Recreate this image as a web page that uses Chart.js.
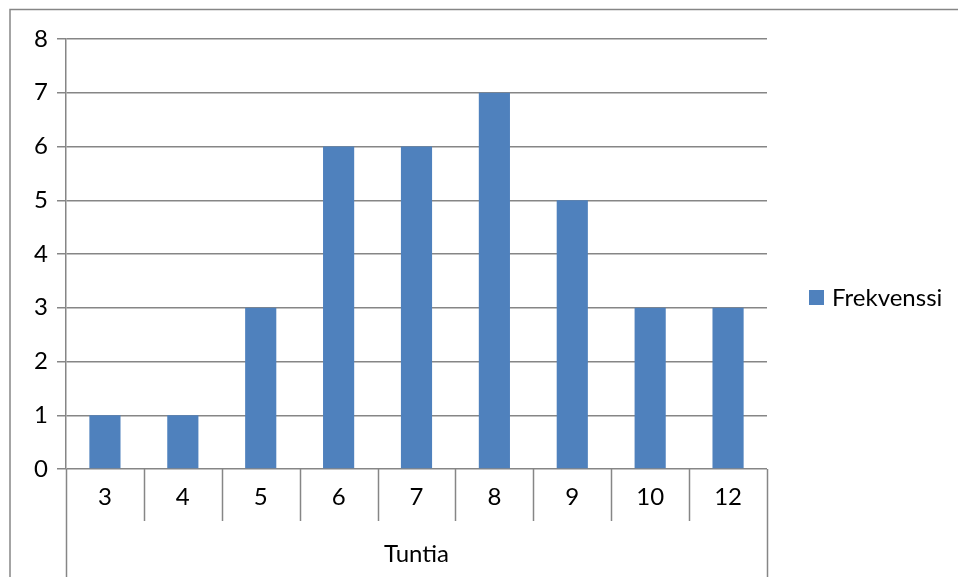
<!DOCTYPE html>
<html>
<head>
<meta charset="utf-8">
<script src="https://cdn.jsdelivr.net/npm/chart.js@4/dist/chart.umd.min.js"></script>
<style>
  html, body { margin: 0; padding: 0; background: #fff; }
  #wrap { width: 958px; height: 577px; position: relative; }
</style>
</head>
<body>
<div id="wrap"><canvas id="c" width="958" height="577"></canvas></div>
<script>
// Hours (Tuntia) and how many answers fell on each
const categories = ['3', '4', '5', '6', '7', '8', '9', '10', '12'];
const frekvenssi = [1, 1, 3, 6, 6, 7, 5, 3, 3];
const yTicks = [0, 1, 2, 3, 4, 5, 6, 7, 8];
const seriesName = 'Frekvenssi';
const axisTitle = 'Tuntia';

const FONT = 'Lato, "Open Sans", sans-serif';
const FONT_SIZE = 24;
const LINE = '#868686';
const BAR = '#4F81BD';

// Outer frame, category table lines and the legend on the right
const excelLook = {
  id: 'excelLook',
  beforeDraw(chart) {
    const ctx = chart.ctx;
    ctx.save();
    ctx.strokeStyle = LINE;
    ctx.lineWidth = 1.5;
    ctx.beginPath();
    ctx.moveTo(10, chart.height + 5);
    ctx.lineTo(10, 9.5);
    ctx.lineTo(chart.width + 5, 9.5);
    ctx.stroke();
    ctx.restore();
  },
  afterDraw(chart) {
    const ctx = chart.ctx;
    const x = chart.scales.x;
    const area = chart.chartArea;
    const n = categories.length;
    const step = (x.right - x.left) / n;
    ctx.save();
    ctx.strokeStyle = LINE;
    ctx.lineWidth = 1.5;
    ctx.beginPath();
    for (let i = 0; i <= n; i++) {
      const px = Math.round(x.left + i * step) + 0.5;
      const outer = (i === 0 || i === n);
      ctx.moveTo(px, area.bottom);
      ctx.lineTo(px, outer ? chart.height : area.bottom + 52);
    }
    ctx.stroke();

    // legend
    const ds = chart.data.datasets[0];
    const cy = 297;
    ctx.fillStyle = ds.backgroundColor;
    ctx.fillRect(809, cy - 7, 15, 15);
    ctx.fillStyle = '#000';
    ctx.font = FONT_SIZE + 'px ' + FONT;
    ctx.textBaseline = 'middle';
    ctx.textAlign = 'left';
    ctx.fillText(ds.label, 832, cy + 1);
    ctx.restore();
  }
};

new Chart(document.getElementById('c'), {
  type: 'bar',
  data: {
    labels: categories,
    datasets: [{
      label: seriesName,
      data: frekvenssi,
      backgroundColor: BAR,
      borderWidth: 0,
      barPercentage: 0.4,
      categoryPercentage: 1.0
    }]
  },
  options: {
    responsive: false,
    animation: false,
    devicePixelRatio: 1,
    layout: { padding: { left: 0, top: 39, right: 191, bottom: 0 } },
    plugins: {
      legend: { display: false },
      tooltip: { enabled: false }
    },
    scales: {
      y: {
        min: 0,
        max: 8,
        afterBuildTicks(scale) { scale.ticks = yTicks.map(v => ({ value: v })); },
        afterFit(scale) { scale.width = 66; },
        grid: { color: LINE, lineWidth: 1.5, tickLength: 9, tickColor: LINE },
        border: { display: true, color: LINE, width: 1.5 },
        ticks: {
          color: '#000',
          padding: 9,
          font: { family: FONT, size: FONT_SIZE }
        }
      },
      x: {
        afterFit(scale) { scale.height = 108; },
        grid: { display: false },
        border: { display: false },
        ticks: {
          color: '#000',
          padding: 6,
          maxRotation: 0,
          autoSkip: false,
          font: { family: FONT, size: FONT_SIZE }
        },
        title: {
          display: true,
          text: axisTitle,
          color: '#000',
          font: { family: FONT, size: FONT_SIZE },
          padding: { top: 0, bottom: 8 }
        }
      }
    }
  },
  plugins: [excelLook]
});
</script>
</body>
</html>
